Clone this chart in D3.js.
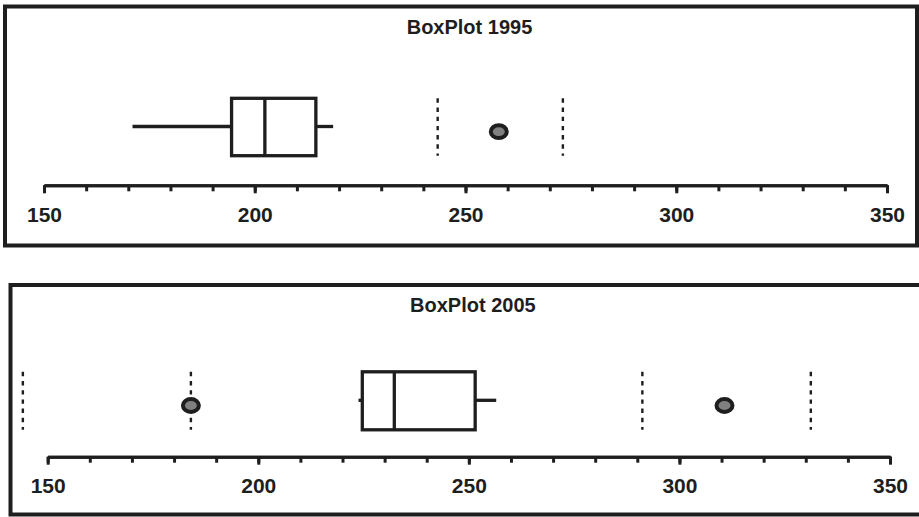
<!DOCTYPE html>
<html>
<head>
<meta charset="utf-8">
<script src="https://cdn.jsdelivr.net/npm/d3@7"></script>
<style>
  html, body { margin: 0; padding: 0; background: #ffffff; }
  svg { display: block; }
  text { font-family: "Liberation Sans", Arial, Helvetica, sans-serif; font-weight: bold; fill: #1e1e1e; }
</style>
</head>
<body>
<svg id="chart" width="919" height="517"></svg>
<script>
// Box plot summaries, one entry per year
const years = ["1995", "2005"];
const whiskerLow = [171.0, 223.8];
const q1 = [194.5, 224.7];
const median = [202.4, 232.3];
const q3 = [214.5, 251.5];
const whiskerHigh = [218.6, 256.5];
const outliers = [[257.9], [184.0, 310.7]];
// Inner / outer fences drawn as dotted markers
const fences = [[243.4, 273.1], [144.1, 184.0, 291.2, 331.2]];
// Axis
const axisDomain = [150, 350];
const majorTicks = [150, 200, 250, 300, 350];
const minorTicks = d3.range(150, 351, 10);

const ink = "#1e1e1e";
const svg = d3.select("#chart");

// Panel frames and inner layout
const panels = [
  { frame: { x: 5, y: 6.5, w: 912, h: 239 }, range: [44, 887], titleY: 33.5, mid: 127, half: 28.7, axisY: 185.3 },
  { frame: { x: 10.5, y: 285, w: 930, h: 229.5 }, range: [47.7, 890], titleY: 311.7, mid: 400.8, half: 29, axisY: 456.7 }
];

panels.forEach((p, i) => {
  const g = svg.append("g");
  const x = d3.scaleLinear().domain(axisDomain).range(p.range);

  g.append("rect")
    .attr("x", p.frame.x).attr("y", p.frame.y)
    .attr("width", p.frame.w).attr("height", p.frame.h)
    .attr("fill", "none").attr("stroke", ink).attr("stroke-width", 4);

  g.append("text")
    .attr("x", (p.range[0] + p.range[1]) / 2 + 4)
    .attr("y", p.titleY)
    .attr("text-anchor", "middle")
    .attr("font-size", 20)
    .text("BoxPlot " + years[i]);

  // Fences
  g.selectAll("line.fence").data(fences[i]).join("line")
    .attr("class", "fence")
    .attr("x1", d => x(d)).attr("x2", d => x(d))
    .attr("y1", p.mid - p.half).attr("y2", p.mid + p.half)
    .attr("stroke", ink).attr("stroke-width", 2.4)
    .attr("stroke-dasharray", "4.4,4.8");

  // Whiskers
  g.append("line")
    .attr("x1", x(whiskerLow[i])).attr("x2", x(q1[i]))
    .attr("y1", p.mid - 0.5).attr("y2", p.mid - 0.5)
    .attr("stroke", ink).attr("stroke-width", 3.3);
  g.append("line")
    .attr("x1", x(q3[i])).attr("x2", x(whiskerHigh[i]))
    .attr("y1", p.mid - 0.5).attr("y2", p.mid - 0.5)
    .attr("stroke", ink).attr("stroke-width", 3.3);

  // Box and median
  g.append("rect")
    .attr("x", x(q1[i])).attr("y", p.mid - p.half)
    .attr("width", x(q3[i]) - x(q1[i])).attr("height", 2 * p.half)
    .attr("fill", "none").attr("stroke", ink).attr("stroke-width", 3.3);
  g.append("line")
    .attr("x1", x(median[i])).attr("x2", x(median[i]))
    .attr("y1", p.mid - p.half).attr("y2", p.mid + p.half)
    .attr("stroke", ink).attr("stroke-width", 3.3);

  // Outliers
  g.selectAll("ellipse.out").data(outliers[i]).join("ellipse")
    .attr("class", "out")
    .attr("cx", d => x(d)).attr("cy", p.mid + 4.7)
    .attr("rx", 8).attr("ry", 6.4)
    .attr("fill", "#808080").attr("stroke", ink).attr("stroke-width", 4);

  // Axis: minor ticks, then major ticks with labels
  const minor = g.append("g").attr("transform", `translate(0,${p.axisY})`)
    .call(d3.axisBottom(x).tickValues(minorTicks).tickSize(6).tickSizeOuter(0).tickFormat(""));
  const major = g.append("g").attr("transform", `translate(0,${p.axisY})`)
    .call(d3.axisBottom(x).tickValues(majorTicks).tickSize(8).tickSizeOuter(0).tickPadding(13.3).tickFormat(d3.format("d")));
  [minor, major].forEach(a => {
    a.select(".domain").attr("stroke", ink).attr("stroke-width", 3);
    a.selectAll(".tick line").attr("stroke", ink).attr("stroke-width", 3);
  });
  major.selectAll(".tick text")
    .attr("font-size", 21)
    .attr("font-family", "\"Liberation Sans\", Arial, sans-serif")
    .attr("font-weight", "bold")
    .attr("fill", ink);
});
</script>
</body>
</html>
